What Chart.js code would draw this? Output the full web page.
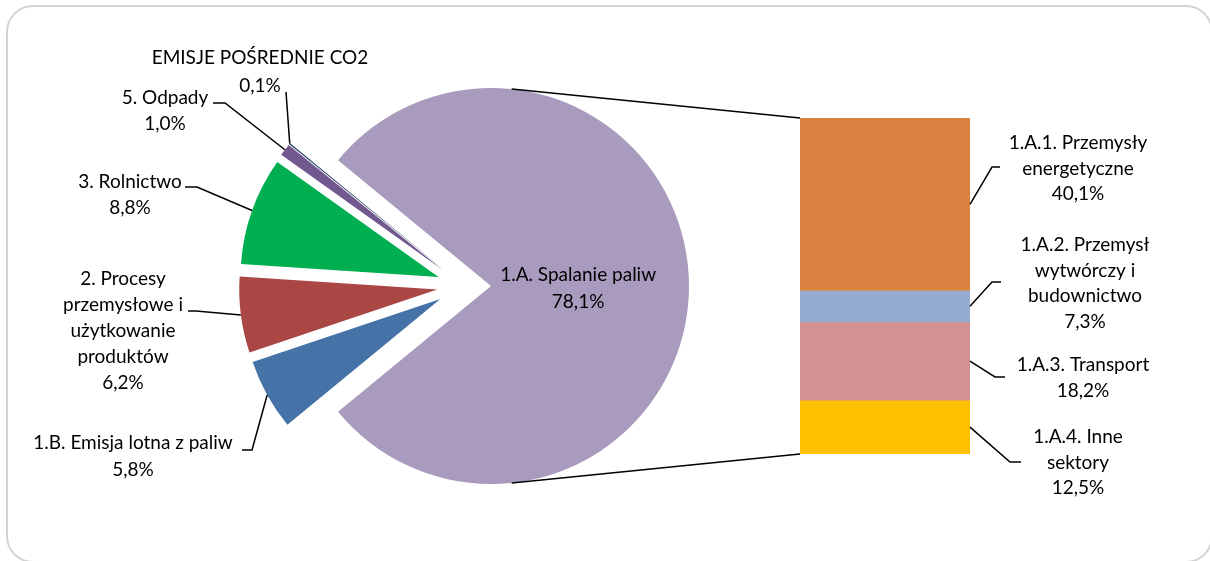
<!DOCTYPE html>
<html>
<head>
<meta charset="utf-8">
<script src="https://cdn.jsdelivr.net/npm/chart.js@4.4.1/dist/chart.umd.min.js"></script>
<style>
  html, body { margin: 0; padding: 0; background: #fff; }
  #wrap { position: relative; width: 1210px; height: 561px; overflow: hidden; background: #fff; }
  #frame { position: absolute; left: 6px; top: 5px; width: 1207px; height: 558px; box-sizing: border-box;
           border: 2px solid #d3d3d3; border-radius: 27px; }
  canvas { position: absolute; left: 0; top: 0; }
</style>
</head>
<body>
<div id="wrap">
  <div id="frame"></div>
  <canvas id="pie" width="1210" height="561"></canvas>
  <canvas id="bar" width="1210" height="561"></canvas>
</div>
<script>
// Emission shares (%), main pie
const pieLabels = ['1.A. Spalanie paliw', '1.B. Emisja lotna z paliw',
  '2. Procesy przemysłowe i użytkowanie produktów', '3. Rolnictwo', '5. Odpady', 'EMISJE POŚREDNIE CO2'];
const pieNameLines = [['1.A. Spalanie paliw'], ['1.B. Emisja lotna z paliw'],
  ['2. Procesy', 'przemysłowe i', 'użytkowanie', 'produktów'], ['3. Rolnictwo'], ['5. Odpady'], ['EMISJE POŚREDNIE CO2']];
const pieValues = [78.1, 5.8, 6.2, 8.8, 1.0, 0.1];
const pieColors = ['#A99BBD', '#4572A7', '#AA4643', '#00B050', '#71588F', '#1F3A60'];

// Breakdown of 1.A. Spalanie paliw (%), stacked bar
const barLabels = ['1.A.1. Przemysły energetyczne', '1.A.2. Przemysł wytwórczy i budownictwo',
  '1.A.3. Transport', '1.A.4. Inne sektory'];
const barNameLines = [['1.A.1. Przemysły', 'energetyczne'], ['1.A.2. Przemysł', 'wytwórczy i', 'budownictwo'],
  ['1.A.3. Transport'], ['1.A.4. Inne', 'sektory']];
const barValues = [40.1, 7.3, 18.2, 12.5];
const barColors = ['#DA8240', '#95ABD2', '#D39191', '#FFC000'];

const FONT = '19px "Lato", sans-serif';
const EXPLODE = 27;          // radial pull-out of every slice, px
const PIE_RADIUS = 198;
const LINE = 1.5;

const pct = v => v.toFixed(1).replace('.', ',') + '%';
const sum = a => a.reduce((s, v) => s + v, 0);

function drawTextLines(ctx, lines, x, y0, step) {
  ctx.save();
  ctx.font = FONT;
  ctx.fillStyle = '#000';
  ctx.textAlign = 'center';
  ctx.textBaseline = 'middle';
  lines.forEach((t, i) => ctx.fillText(t, x, y0 + i * step));
  ctx.restore();
}
function drawPolyline(ctx, pts) {
  ctx.save();
  ctx.strokeStyle = '#000';
  ctx.lineWidth = LINE;
  ctx.beginPath();
  pts.forEach((p, i) => i ? ctx.lineTo(p[0], p[1]) : ctx.moveTo(p[0], p[1]));
  ctx.stroke();
  ctx.restore();
}
// centre of an exploded slice and a point on its rim
function slicePoint(arc, angle, r) {
  const mid = (arc.startAngle + arc.endAngle) / 2;
  const cx = arc.x + Math.cos(mid) * EXPLODE;
  const cy = arc.y + Math.sin(mid) * EXPLODE;
  return [cx + Math.cos(angle) * r, cy + Math.sin(angle) * r];
}

// Slices are drawn pulled out along their mid angle
const explodePlugin = {
  id: 'explode',
  beforeDatasetDraw(chart, args) {
    const ctx = chart.ctx;
    args.meta.data.forEach(arc => {
      const mid = (arc.startAngle + arc.endAngle) / 2;
      ctx.save();
      ctx.translate(Math.cos(mid) * EXPLODE, Math.sin(mid) * EXPLODE);
      arc.draw(ctx);
      ctx.restore();
    });
    return false;
  }
};

// Outside labels with leader lines for the small slices
const PIE_LABEL_LAYOUT = {
  1: { x: 133, y: 443, step: 27, elbow: [[242, 450], [252, 450]] },
  2: { x: 123, y: 279, step: 26, elbow: [[188, 311], [196, 311]] },
  3: { x: 130, y: 182, step: 26, elbow: [[185, 187], [197, 187]] },
  4: { x: 165, y: 98, step: 26, elbow: [[213, 103], [225, 103]] },
  5: { x: 260, y: 58, step: 28, elbow: [[286, 92]] }
};
const pieLabelPlugin = {
  id: 'pieLabels',
  afterDatasetsDraw(chart) {
    const ctx = chart.ctx;
    const arcs = chart.getDatasetMeta(0).data;
    arcs.forEach((arc, i) => {
      const mid = (arc.startAngle + arc.endAngle) / 2;
      const lines = pieNameLines[i].concat([pct(pieValues[i])]);
      if (i === 0) {
        const p = slicePoint(arc, mid, arc.outerRadius * 0.44);
        drawTextLines(ctx, lines, p[0], p[1] - 11, 27);
        return;
      }
      const L = PIE_LABEL_LAYOUT[i];
      const rim = slicePoint(arc, mid, arc.outerRadius);
      drawPolyline(ctx, L.elbow.concat([rim]));
      drawTextLines(ctx, lines, L.x, L.y, L.step);
    });
  }
};

const pieChart = new Chart(document.getElementById('pie'), {
  type: 'pie',
  data: {
    labels: pieLabels,
    datasets: [{ data: pieValues, backgroundColor: pieColors, borderWidth: 0 }]
  },
  options: {
    responsive: false,
    animation: false,
    radius: PIE_RADIUS,
    // first slice centred on the right-hand side
    rotation: 90 - (pieValues[0] / sum(pieValues)) * 180,
    layout: { padding: { left: 0, right: 282, top: 11, bottom: 0 } },
    plugins: { legend: { display: false }, tooltip: { enabled: false } },
    events: []
  },
  plugins: [explodePlugin, pieLabelPlugin]
});

// Labels of bar segments and the two connector lines to the pie
const BAR_LABEL_LAYOUT = [
  { x: 1078, y: 143, elbow: [[992, 167], [1000, 167]] },
  { x: 1085, y: 245, elbow: [[992, 282], [1001, 282]] },
  { x: 1083, y: 365, elbow: [[995, 377], [1005, 377]] },
  { x: 1078, y: 437, elbow: [[1010, 462], [1021, 462]] }
];
const barLabelPlugin = {
  id: 'barLabels',
  afterDatasetsDraw(chart) {
    const ctx = chart.ctx;
    let top = Infinity, bottom = -Infinity, left = 0;
    barValues.forEach((v, i) => {
      const el = chart.getDatasetMeta(i).data[0];
      const y1 = Math.min(el.y, el.base), y2 = Math.max(el.y, el.base);
      const right = el.x + el.width / 2;
      left = el.x - el.width / 2;
      top = Math.min(top, y1);
      bottom = Math.max(bottom, y2);
      const L = BAR_LABEL_LAYOUT[i];
      drawPolyline(ctx, [[right, (y1 + y2) / 2]].concat(L.elbow));
      drawTextLines(ctx, barNameLines[i].concat([pct(v)]), L.x, L.y, 25.5);
    });
    const big = pieChart.getDatasetMeta(0).data[0];
    const mid = (big.startAngle + big.endAngle) / 2;
    const a = 84 * Math.PI / 180;
    drawPolyline(ctx, [slicePoint(big, mid - a, big.outerRadius), [left, top]]);
    drawPolyline(ctx, [slicePoint(big, mid + a, big.outerRadius), [left, bottom]]);
  }
};

new Chart(document.getElementById('bar'), {
  type: 'bar',
  data: {
    labels: [''],
    datasets: barValues.map((v, i) => ({
      label: barLabels[i], data: [v], backgroundColor: barColors[i], borderWidth: 0,
      barPercentage: 1, categoryPercentage: 1
    }))
  },
  options: {
    responsive: false,
    animation: false,
    layout: { padding: { left: 800, right: 240, top: 118, bottom: 107 } },
    scales: {
      x: { stacked: true, display: false },
      y: { stacked: true, display: false, reverse: true, min: 0, max: sum(barValues) }
    },
    plugins: { legend: { display: false }, tooltip: { enabled: false } },
    events: []
  },
  plugins: [barLabelPlugin]
});
</script>
</body>
</html>
